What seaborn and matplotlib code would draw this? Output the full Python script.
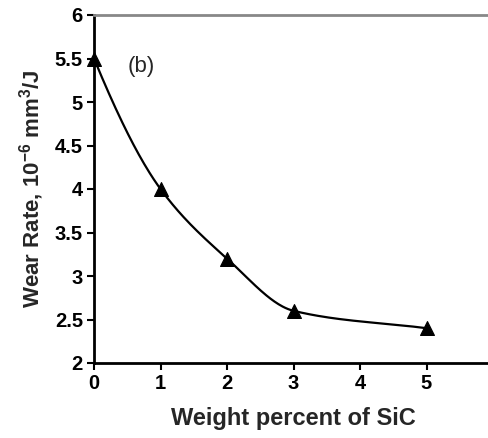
import numpy as np
import matplotlib
matplotlib.use("Agg")
import matplotlib.pyplot as plt
import seaborn as sns
import pandas as pd

sic_wt = [0, 1, 2, 3, 5]
wear_rate = [5.5, 4.0, 3.2, 2.6, 2.4]
x_ticks = [0, 1, 2, 3, 4, 5, 6]
y_ticks = [2, 2.5, 3, 3.5, 4, 4.5, 5, 5.5, 6]
y_tick_labels = ["2", "2.5", "3", "3.5", "4", "4.5", "5", "5.5", "6"]

sns.set_theme(style="white")
plt.rcParams["font.family"] = ["Liberation Sans", "DejaVu Sans"]
plt.rcParams["mathtext.fontset"] = "custom"
plt.rcParams["mathtext.rm"] = "Liberation Sans:bold"
plt.rcParams["mathtext.bf"] = "Liberation Sans:bold"
plt.rcParams["mathtext.default"] = "bf"

fig = plt.figure(figsize=(4.88, 4.38), dpi=100)
ax = fig.add_axes([94/488, (438-363)/438, (493-94)/488, (363-15)/438])

# smooth monotone (PCHIP-style) curve through the data points
def pchip(xs, ys, n=50):
    xs = np.asarray(xs, float); ys = np.asarray(ys, float)
    h = np.diff(xs)
    d = np.diff(ys)/h
    m = np.empty_like(ys)
    for k in range(1, len(xs)-1):
        w1 = 2*h[k] + h[k-1]; w2 = h[k] + 2*h[k-1]
        m[k] = (w1 + w2)/(w1/d[k-1] + w2/d[k])
    m0 = ((2*h[0]+h[1])*d[0] - h[0]*d[1])/(h[0]+h[1])
    m[0] = m0 if np.sign(m0) == np.sign(d[0]) else 0.0
    m[-1] = d[-1]
    ox, oy = [], []
    for i in range(len(xs)-1):
        t = np.linspace(0, 1, n)
        h00 = 2*t**3-3*t**2+1; h10 = t**3-2*t**2+t
        h01 = -2*t**3+3*t**2; h11 = t**3-t**2
        ox.extend(xs[i]+t*h[i])
        oy.extend(h00*ys[i]+h10*h[i]*m[i]+h01*ys[i+1]+h11*h[i]*m[i+1])
    return np.array(ox), np.array(oy)

cx, cy = pchip(sic_wt, wear_rate)
ax.plot(cx, cy, color="black", lw=1.6, zorder=2)
df = pd.DataFrame({"x": sic_wt, "y": wear_rate})
sns.scatterplot(data=df, x="x", y="y", marker="^", s=100, color="black",
                edgecolor="black", ax=ax, zorder=3, clip_on=False)

ax.set_xlim(0, 6)
ax.set_ylim(2, 6)
ax.set_xticks(x_ticks)
ax.set_yticks(y_ticks)
ax.set_yticklabels(y_tick_labels)
ax.tick_params(axis="both", which="both", direction="out", length=5, width=1.5,
               colors="black", labelsize=14.5, bottom=True, left=True, pad=3)
for lab in ax.get_xticklabels() + ax.get_yticklabels():
    lab.set_fontweight("bold")
for s in ["left", "bottom"]:
    ax.spines[s].set_color("black")
    ax.spines[s].set_linewidth(2)
ax.spines["top"].set_color("#888888")
ax.spines["top"].set_linewidth(2)
ax.spines["right"].set_color("black")
ax.spines["right"].set_linewidth(2)

ax.set_xlabel("Weight percent of SiC", fontsize=17, fontweight="bold", labelpad=10)
ax.set_ylabel("Wear Rate, 10$^{-6}$ mm$^{3}$/J", fontsize=16, fontweight="bold", labelpad=6)
ax.text(0.51, 5.41, "(b)", fontsize=16, va="center", ha="left")

fig.savefig("out.png", dpi=100)
